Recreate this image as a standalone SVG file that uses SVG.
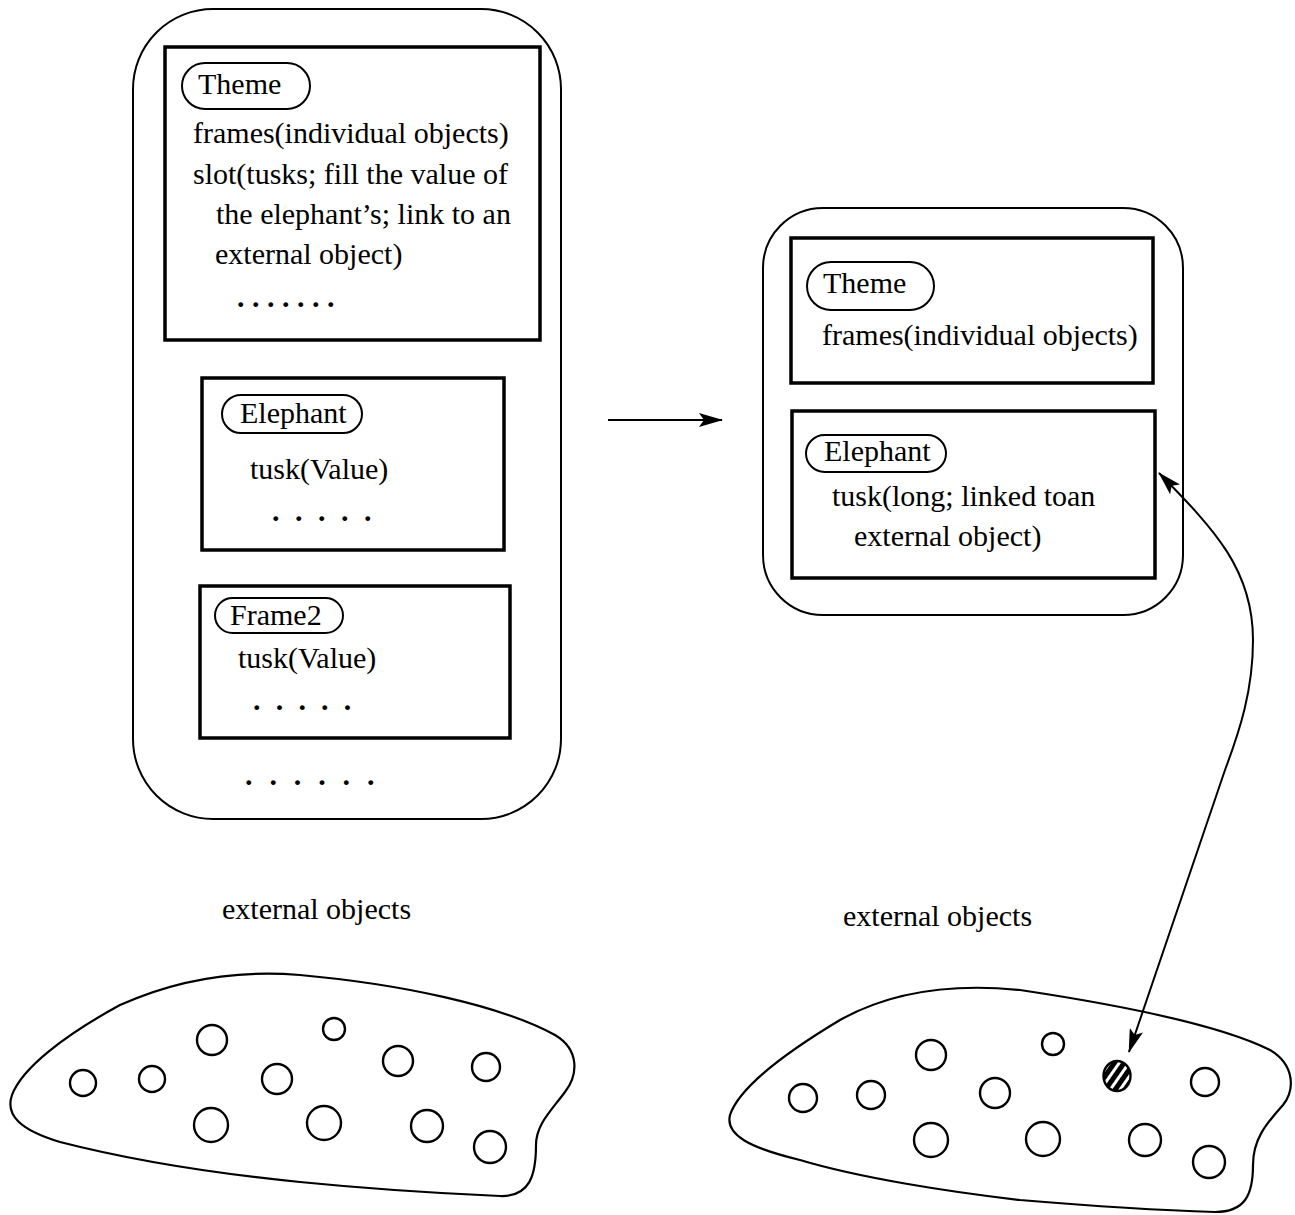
<svg xmlns="http://www.w3.org/2000/svg" width="1295" height="1215" viewBox="0 0 1295 1215">
  <style>
    text { font-family: "Liberation Serif", "Times New Roman", serif; font-size: 30px; fill: #000; }
    .dots { font-weight: bold; }
    .outer { fill: none; stroke: #000; stroke-width: 2; }
    .frame { fill: none; stroke: #000; stroke-width: 3.5; }
    .pill { fill: none; stroke: #000; stroke-width: 2; }
    .blob { fill: none; stroke: #000; stroke-width: 2.2; }
    .obj { fill: none; stroke: #000; stroke-width: 2.4; }
    .conn { fill: none; stroke: #000; stroke-width: 2; }
  </style>
  <defs>
    <marker id="arrow" viewBox="0 0 24 14" markerUnits="userSpaceOnUse" markerWidth="24" markerHeight="14" refX="23" refY="7" orient="auto-start-reverse">
      <path d="M0,0 L24,7 L0,14 L5,7 Z" fill="#000"/>
    </marker>
    <pattern id="hatch" width="8" height="8" patternUnits="userSpaceOnUse" patternTransform="rotate(-55)">
      <rect width="8" height="8" fill="#fff"/>
      <rect width="8" height="5" fill="#000"/>
    </pattern>
  </defs>

  <!-- left knowledge base -->
  <g id="left-base">
    <rect class="outer" x="133" y="9" width="428" height="810" rx="80" ry="80"/>
    <text class="dots" x="245" y="785" letter-spacing="16.9">......</text>
  </g>

  <g id="left-theme">
    <rect class="frame" x="165" y="47" width="375" height="293"/>
    <rect class="pill" x="182" y="63" width="128" height="46" rx="23" ry="23"/>
    <text x="198" y="94">Theme</text>
    <text x="193" y="143">frames(individual objects)</text>
    <text x="193" y="184">slot(tusks; fill the value of</text>
    <text x="216" y="224">the elephant’s; link to an</text>
    <text x="215" y="264">external object)</text>
    <text class="dots" x="237" y="307" letter-spacing="7.5">.......</text>
  </g>

  <g id="left-elephant">
    <rect class="frame" x="202" y="378" width="302" height="172"/>
    <rect class="pill" x="222" y="395" width="140" height="38" rx="19" ry="19"/>
    <text x="240" y="423">Elephant</text>
    <text x="250" y="479">tusk(Value)</text>
    <text class="dots" x="272" y="521" letter-spacing="15.5">.....</text>
  </g>

  <g id="left-frame2">
    <rect class="frame" x="200" y="586" width="310" height="152"/>
    <rect class="pill" x="215" y="598" width="128" height="35" rx="17.5" ry="17.5"/>
    <text x="230" y="625">Frame2</text>
    <text x="238" y="668">tusk(Value)</text>
    <text class="dots" x="253" y="710" letter-spacing="15.2">.....</text>
  </g>

  <!-- right knowledge base -->
  <g id="right-base">
    <rect class="outer" x="763" y="208" width="420" height="407" rx="60" ry="60"/>
  </g>

  <g id="right-theme">
    <rect class="frame" x="791" y="238" width="362" height="145"/>
    <rect class="pill" x="807" y="262" width="127" height="48" rx="24" ry="24"/>
    <text x="823" y="293">Theme</text>
    <text x="822" y="345">frames(individual objects)</text>
  </g>

  <g id="right-elephant">
    <rect class="frame" x="792" y="411" width="363" height="167"/>
    <rect class="pill" x="806" y="435" width="140" height="37" rx="18.5" ry="18.5"/>
    <text x="824" y="461">Elephant</text>
    <text x="832" y="506">tusk(long; linked toan</text>
    <text x="854" y="546">external object)</text>
  </g>

  <!-- external object pools -->
  <g id="left-objects">
    <text x="222" y="919">external objects</text>
    <path class="blob" d="M300,975 C400,984 500,1005 555,1035 C580,1050 578,1075 565,1092 C550,1112 536,1125 536,1145 C536,1175 530,1197 500,1196 C430,1193 360,1188 300,1182 C220,1174 130,1160 60,1142 C20,1130 5,1115 12,1095 C22,1068 65,1035 120,1005 C180,978 240,970 300,975 Z"/>
    <circle class="obj" cx="83" cy="1083" r="13"/>
    <circle class="obj" cx="152" cy="1079" r="13"/>
    <circle class="obj" cx="212" cy="1040" r="15"/>
    <circle class="obj" cx="277" cy="1079" r="15"/>
    <circle class="obj" cx="211" cy="1125" r="17"/>
    <circle class="obj" cx="334" cy="1029" r="11"/>
    <circle class="obj" cx="398" cy="1061" r="15"/>
    <circle class="obj" cx="486" cy="1067" r="14"/>
    <circle class="obj" cx="324" cy="1123" r="17"/>
    <circle class="obj" cx="427" cy="1126" r="16"/>
    <circle class="obj" cx="490" cy="1147" r="16"/>
  </g>

  <g id="right-objects">
    <text x="843" y="926">external objects</text>
    <path class="blob" d="M1020,990 C1120,1005 1220,1025 1270,1050 C1295,1065 1295,1090 1283,1105 C1265,1125 1253,1140 1253,1165 C1253,1195 1245,1212 1215,1212 C1150,1210 1080,1205 1020,1200 C950,1192 860,1178 800,1160 C750,1148 725,1135 730,1115 C740,1085 790,1050 840,1020 C890,992 950,983 1020,990 Z"/>
    <circle class="obj" cx="803" cy="1098" r="14"/>
    <circle class="obj" cx="871" cy="1095" r="14"/>
    <circle class="obj" cx="931" cy="1055" r="15"/>
    <circle class="obj" cx="995" cy="1093" r="15"/>
    <circle class="obj" cx="931" cy="1140" r="17"/>
    <circle class="obj" cx="1053" cy="1044" r="11"/>
    <ellipse cx="1117" cy="1076" rx="13.5" ry="15" fill="url(#hatch)" stroke="#000" stroke-width="2.4"/>
    <circle class="obj" cx="1205" cy="1082" r="14"/>
    <circle class="obj" cx="1043" cy="1139" r="17"/>
    <circle class="obj" cx="1145" cy="1140" r="16"/>
    <circle class="obj" cx="1209" cy="1162" r="16"/>
  </g>

  <!-- connectors -->
  <g id="connectors">
    <line class="conn" x1="608" y1="420" x2="722" y2="420" marker-end="url(#arrow)"/>
    <path class="conn" d="M1159,473 C1215,530 1253,570 1253,640 C1253,690 1240,730 1225,770 L1129,1052" marker-start="url(#arrow)" marker-end="url(#arrow)"/>
  </g>
</svg>
